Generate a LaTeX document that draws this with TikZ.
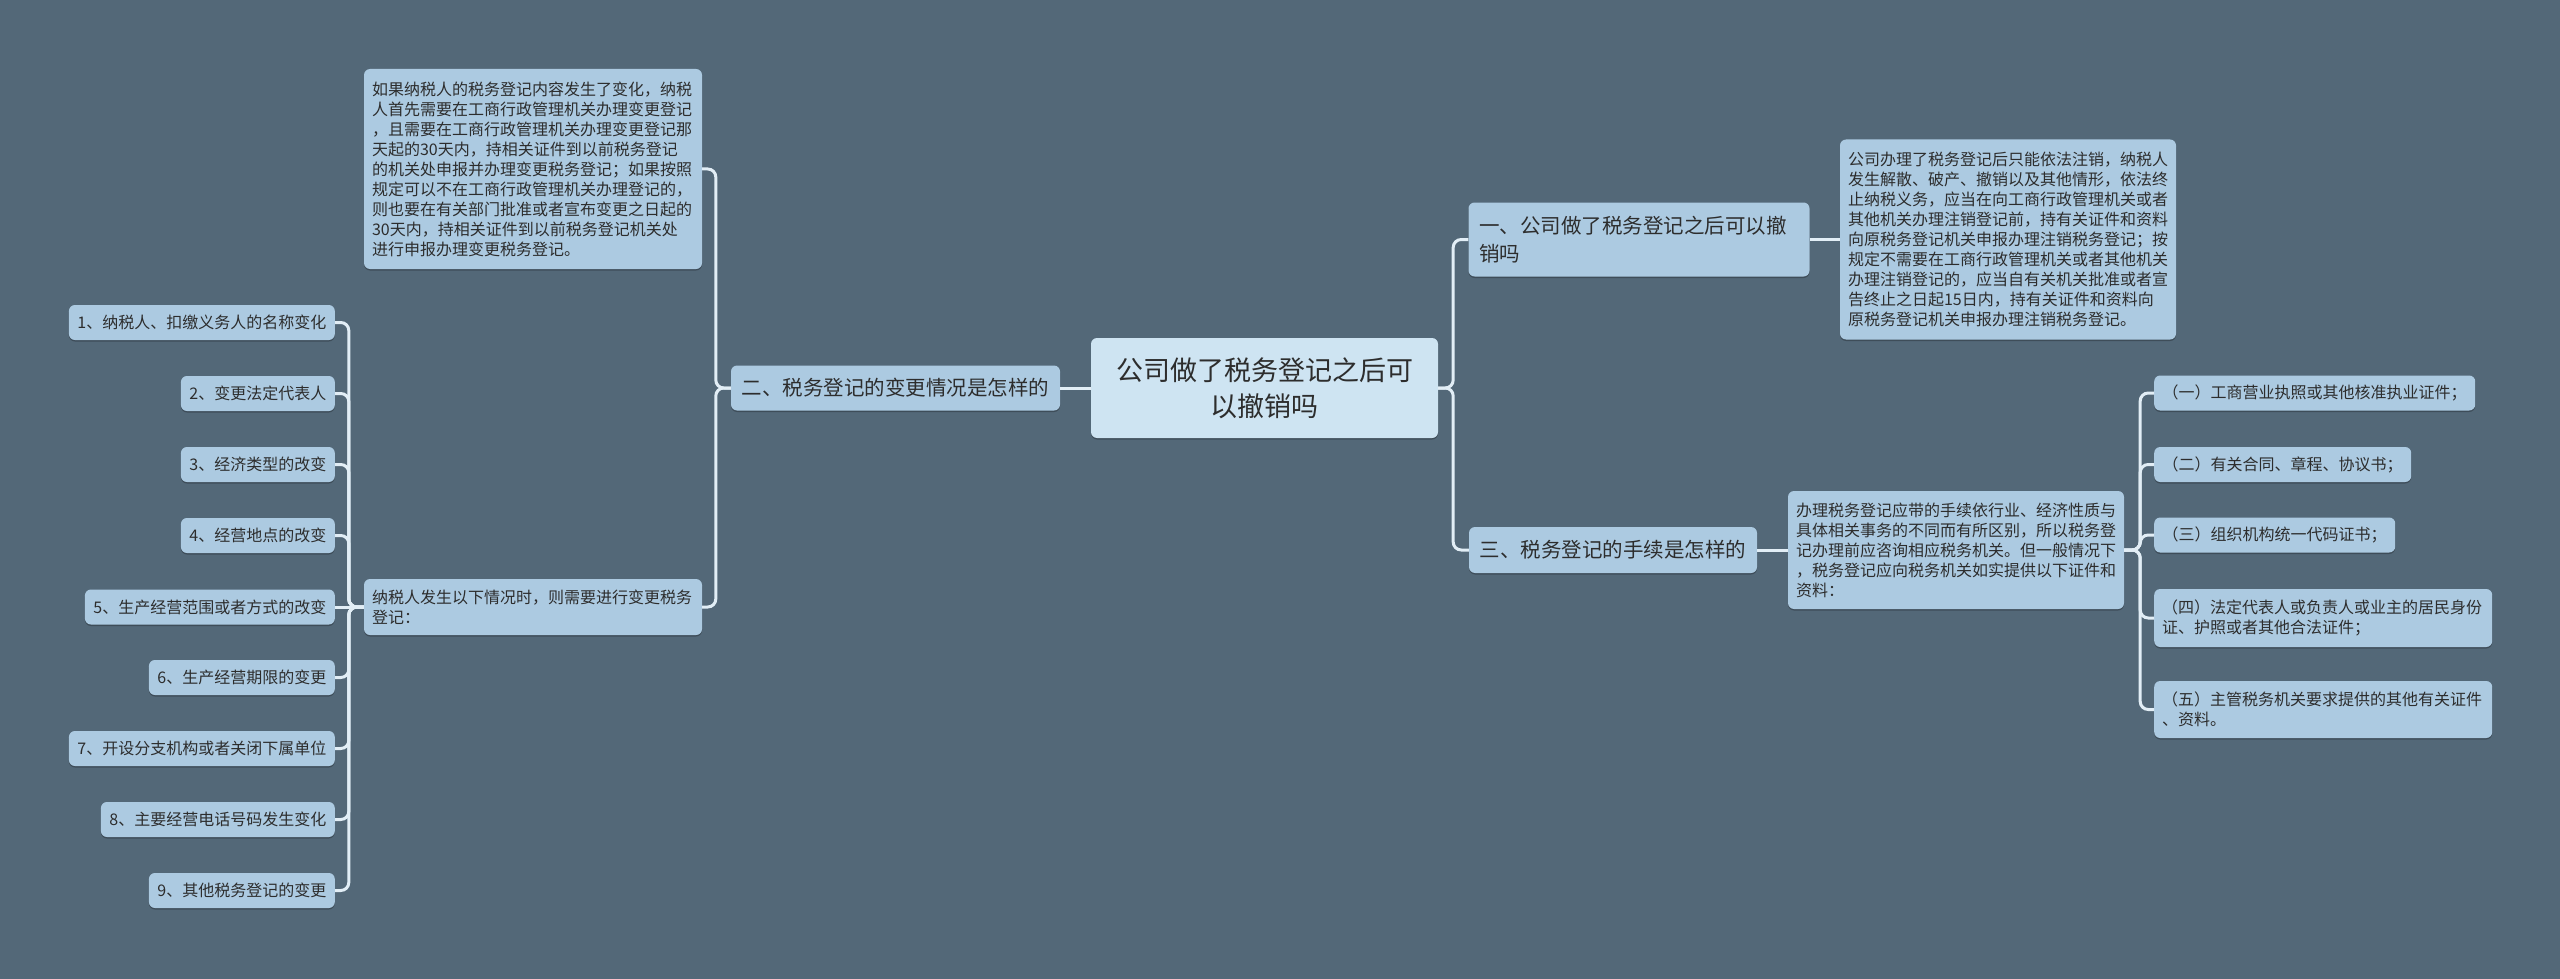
\documentclass[tikz,border=0pt]{standalone}
\usepackage{fontspec}
\newfontfamily\cjk{Noto Sans CJK SC}
\usetikzlibrary{shadows}
\definecolor{bgc}{RGB}{83,104,120}
\definecolor{nodefill}{RGB}{172,202,225}
\definecolor{rootfill}{RGB}{206,228,242}
\definecolor{textc}{RGB}{45,45,45}
\definecolor{linec}{RGB}{226,238,246}
\tikzset{
  box/.style={fill=nodefill, rounded corners=6pt, text=textc, inner xsep=8pt, inner ysep=0pt,
    font={\cjk\fontsize{16pt}{20pt}\selectfont},
    drop shadow={shadow xshift=0pt, shadow yshift=-1.5pt, opacity=0.25, fill=black}},
  leaf/.style={box, minimum height=35pt, inner xsep=8.5pt},
  para/.style={box, align=left},
  mid/.style={box, inner xsep=10.5pt, font={\cjk\fontsize{20.5pt}{28pt}\selectfont}},
  rootbox/.style={box, fill=rootfill, align=center, font={\cjk\fontsize{27pt}{36pt}\selectfont}},
  conn/.style={draw=linec, line width=3pt, rounded corners=8pt}
}
\begin{document}
\begin{tikzpicture}[x=1pt,y=-1pt]
\fill[bgc] (0,0) rectangle (2560,979);
\useasboundingbox (0,0) rectangle (2560,979);

% root
\node[rootbox, minimum width=347pt, minimum height=100pt] (root) at (1264.5,388) {公司做了税务登记之后可\\以撤销吗};

% first level
\node[mid, align=left, text width=320pt, minimum height=74pt] (n1) at (1639,239.5) {一、公司做了税务登记之后可以撤\\销吗};
\node[mid, minimum height=45pt, minimum width=329pt] (n2) at (895.5,388) {二、税务登记的变更情况是怎样的};
\node[mid, minimum height=46pt, minimum width=288pt] (n3) at (1613,550) {三、税务登记的手续是怎样的};

% descriptions
\node[para, text width=320pt, minimum height=200pt] (d1) at (2008,239.5) {公司办理了税务登记后只能依法注销，纳税人\\发生解散、破产、撤销以及其他情形，依法终\\止纳税义务，应当在向工商行政管理机关或者\\其他机关办理注销登记前，持有关证件和资料\\向原税务登记机关申报办理注销税务登记；按\\规定不需要在工商行政管理机关或者其他机关\\办理注销登记的，应当自有关机关批准或者宣\\告终止之日起15日内，持有关证件和资料向\\原税务登记机关申报办理注销税务登记。};

\node[para, text width=320pt, minimum height=118pt] (d3) at (1956,550) {办理税务登记应带的手续依行业、经济性质与\\具体相关事务的不同而有所区别，所以税务登\\记办理前应咨询相应税务机关。但一般情况下\\，税务登记应向税务机关如实提供以下证件和\\资料：};

\node[para, text width=322pt, minimum height=200pt] (d2a) at (533,169) {如果纳税人的税务登记内容发生了变化，纳税\\人首先需要在工商行政管理机关办理变更登记\\，且需要在工商行政管理机关办理变更登记那\\天起的30天内，持相关证件到以前税务登记\\的机关处申报并办理变更税务登记；如果按照\\规定可以不在工商行政管理机关办理登记的，\\则也要在有关部门批准或者宣布变更之日起的\\30天内，持相关证件到以前税务登记机关处\\进行申报办理变更税务登记。};

\node[para, text width=322pt, minimum height=56pt] (d2b) at (533,607) {纳税人发生以下情况时，则需要进行变更税务\\登记：};

% right leaves
\node[leaf, anchor=west] (r1) at (2154,393) {（一）工商营业执照或其他核准执业证件；};
\node[leaf, anchor=west] (r2) at (2154,464.5) {（二）有关合同、章程、协议书；};
\node[leaf, anchor=west] (r3) at (2154,535) {（三）组织机构统一代码证书；};
\node[para, anchor=west, text width=322pt, minimum height=58pt] (r4) at (2154,618) {（四）法定代表人或负责人或业主的居民身份\\证、护照或者其他合法证件；};
\node[para, anchor=west, text width=322pt, minimum height=57pt] (r5) at (2154,709.5) {（五）主管税务机关要求提供的其他有关证件\\、资料。};

% left leaves
\node[leaf, anchor=east] (l1) at (335,322.5) {1、纳税人、扣缴义务人的名称变化};
\node[leaf, anchor=east] (l2) at (335,393.5) {2、变更法定代表人};
\node[leaf, anchor=east] (l3) at (335,464.5) {3、经济类型的改变};
\node[leaf, anchor=east] (l4) at (335,535.5) {4、经营地点的改变};
\node[leaf, anchor=east] (l5) at (335,607) {5、生产经营范围或者方式的改变};
\node[leaf, anchor=east] (l6) at (335,677.5) {6、生产经营期限的变更};
\node[leaf, anchor=east] (l7) at (335,748.5) {7、开设分支机构或者关闭下属单位};
\node[leaf, anchor=east] (l8) at (335,819.5) {8、主要经营电话号码发生变化};
\node[leaf, anchor=east] (l9) at (335,890.5) {9、其他税务登记的变更};

% connectors
\draw[conn] (root.west) -- (n2.east);
\draw[conn] (root.east) -- ++(15,0) |- (n1.west);
\draw[conn] (root.east) -- ++(15,0) |- (n3.west);
\draw[conn] (n1.east) -- (d1.west);
\draw[conn] (n3.east) -- (d3.west);
\foreach \r in {r1,r2,r3,r4,r5} \draw[conn] (d3.east) -- ++(16,0) |- (\r.west);
\draw[conn] (n2.west) -- ++(-15,0) |- (d2a.east);
\draw[conn] (n2.west) -- ++(-15,0) |- (d2b.east);
\draw[conn] (d2b.west) -- (l5.east);
\foreach \l in {l1,l2,l3,l4,l6,l7,l8,l9} \draw[conn] (d2b.west) -- ++(-15,0) |- (\l.east);
\end{tikzpicture}
\end{document}
